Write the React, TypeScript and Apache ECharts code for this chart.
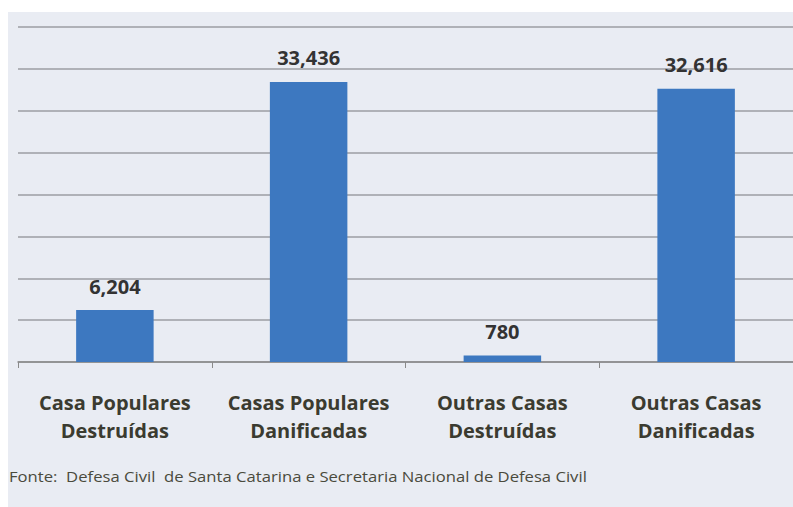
import React, { useEffect, useRef } from "react";
import * as echarts from "echarts";

const categories = [
  "Casa Populares\nDestruídas",
  "Casas Populares\nDanificadas",
  "Outras Casas\nDestruídas",
  "Outras Casas\nDanificadas",
];
const values = [6204, 33436, 780, 32616];
const sourceNote = "Fonte:  Defesa Civil  de Santa Catarina e Secretaria Nacional de Defesa Civil";

export default function App() {
  const ref = useRef<HTMLDivElement>(null);
  useEffect(() => {
    if (!ref.current) return;
    const chart = echarts.init(ref.current, undefined, { renderer: "svg" });
    chart.setOption({
      animation: false,
      backgroundColor: "#ffffff",
      graphic: [
        {
          type: "rect",
          z: -10,
          silent: true,
          shape: { x: 8, y: 12, width: 785, height: 495 },
          style: { fill: "#e9ecf3" },
        },
        {
          type: "text",
          x: 9,
          y: 477,
          scaleX: 1.19,
          style: {
            text: sourceNote,
            font: "14px 'Open Sans'",
            fill: "#4a4a3c",
            verticalAlign: "middle",
          },
        },
      ],
      grid: { left: 18, right: -1, top: 27, bottom: 145, containLabel: false },
      xAxis: {
        type: "category",
        data: categories,
        axisLine: { lineStyle: { color: "#8a8a8a", width: 1.5 } },
        axisTick: { show: true, length: 6, lineStyle: { color: "#8a8a8a" } },
        axisLabel: {
          margin: 26,
          fontFamily: "Open Sans",
          fontWeight: "bold",
          fontSize: 20,
          lineHeight: 28,
          color: "#3b3b30",
          interval: 0,
        },
      },
      yAxis: {
        type: "value",
        min: 0,
        max: 40000,
        interval: 5000,
        axisLabel: { show: false },
        axisLine: { show: false },
        axisTick: { show: false },
        splitLine: { lineStyle: { color: "#9b9ea3", width: 1.5 } },
      },
      series: [
        {
          type: "bar",
          data: values,
          barWidth: "40%",
          itemStyle: { color: "#3d78c0" },
          label: {
            show: true,
            position: "top",
            distance: 14,
            fontFamily: "Open Sans",
            fontWeight: "bold",
            fontSize: 20,
            color: "#333333",
            formatter: (p: any) => p.value.toLocaleString("en-US"),
          },
        },
      ],
    });
    return () => chart.dispose();
  }, []);
  return (
    <div
      ref={ref}
      style={{ position: "fixed", left: 0, top: 0, width: 793, height: 507 }}
    />
  );
}
